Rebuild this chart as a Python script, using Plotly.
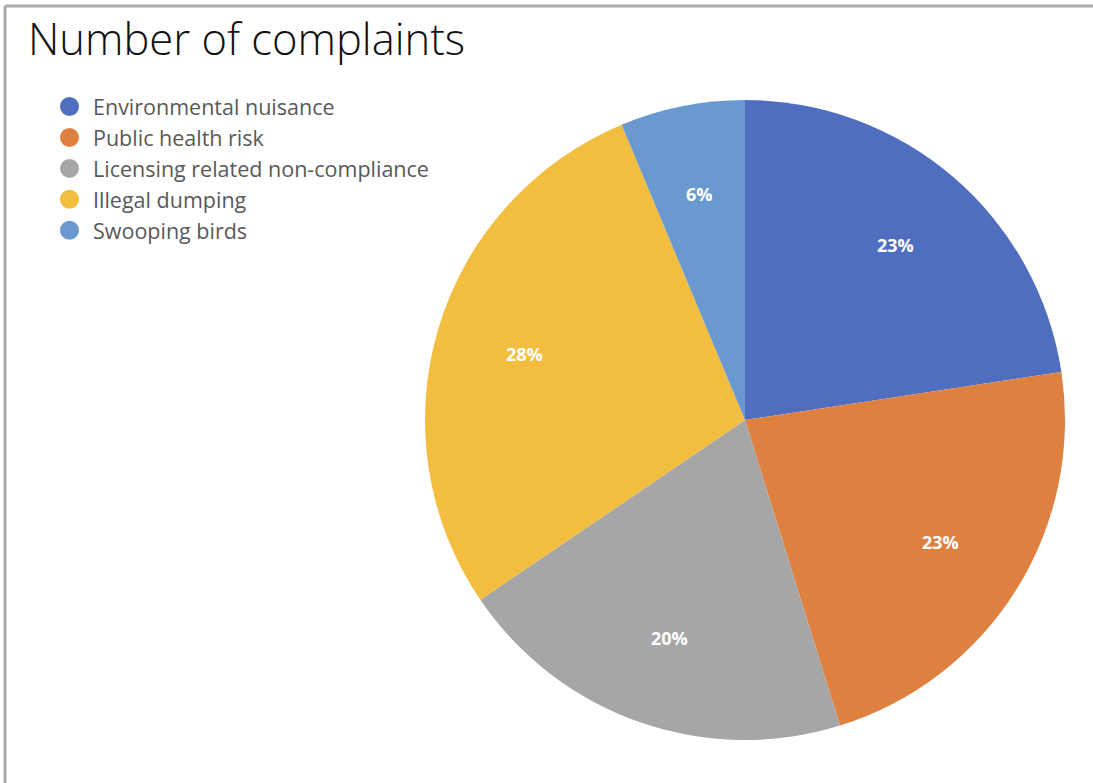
import math
import plotly.graph_objects as go

categories = ["Environmental nuisance", "Public health risk",
              "Licensing related non-compliance", "Illegal dumping", "Swooping birds"]
values = [22.6, 22.6, 20.3, 28.2, 6.3]
colors = ["#4F6EBF", "#DE8040", "#A6A6A6", "#F3BE3F", "#6A99D0"]
title_text = "Number of complaints"

W, H = 1093, 783
cx, cy, R = 745, 420, 320

fig = go.Figure()
fig.add_trace(go.Pie(
    labels=categories, values=values, sort=False, direction="clockwise",
    rotation=0, marker=dict(colors=colors, line=dict(width=0)),
    textinfo="none", showlegend=False, hoverinfo="label+percent",
    domain=dict(x=[(cx - R) / W, (cx + R) / W], y=[1 - (cy + R) / H, 1 - (cy - R) / H]),
))

# legend entries with circular markers
for i, (name, col) in enumerate(zip(categories, colors)):
    fig.add_trace(go.Scatter(x=[None], y=[None], mode="markers", name=name,
                             legendgroup=f"g{i}",
                             marker=dict(symbol="circle", size=16, color=col,
                                         line=dict(color=col, width=3))))

# percentage labels at mid-angle of each slice
total = sum(values)
cum = 0
annotations = []
for v in values:
    mid = (cum + v / 2) / total * 2 * math.pi
    cum += v
    px = cx + 0.72 * R * math.sin(mid)
    py = cy - 0.72 * R * math.cos(mid)
    annotations.append(dict(x=px / W, y=1 - py / H, xref="paper", yref="paper",
                            xanchor="center", yanchor="middle",
                            text=f"<b>{round(v / total * 100)}%</b>", showarrow=False,
                            font=dict(family="Open Sans", size=18, color="white")))

fig.update_layout(
    width=W, height=H, margin=dict(l=0, r=0, t=0, b=0),
    paper_bgcolor="white", plot_bgcolor="white",
    xaxis=dict(visible=False), yaxis=dict(visible=False),
    title=dict(text=title_text, xref="container", yref="container", x=28 / W, xanchor="left",
               y=1 - 40 / H, yanchor="middle",
               font=dict(family="Open Sans", size=43.5, weight=300, color="#111111")),
    legend=dict(x=46 / W, y=1 - 86 / H, xanchor="left", yanchor="top",
                font=dict(family="Open Sans", size=21.5, color="#595959"),
                bgcolor="rgba(0,0,0,0)", tracegroupgap=0, itemsizing="trace", itemwidth=37),
    annotations=annotations,
    shapes=[
        dict(type="line", xref="paper", yref="paper", x0=5 / W, x1=1.01, y0=1 - 6 / H, y1=1 - 6 / H,
             line=dict(color="#AAAAAA", width=3)),
        dict(type="line", xref="paper", yref="paper", x0=5 / W, x1=5 / W, y0=-0.01, y1=1 - 6 / H,
             line=dict(color="#AAAAAA", width=3)),
    ],
)

fig.write_html("out.html", config={"displayModeBar": False},
               post_script="document.body.style.margin='0';")
